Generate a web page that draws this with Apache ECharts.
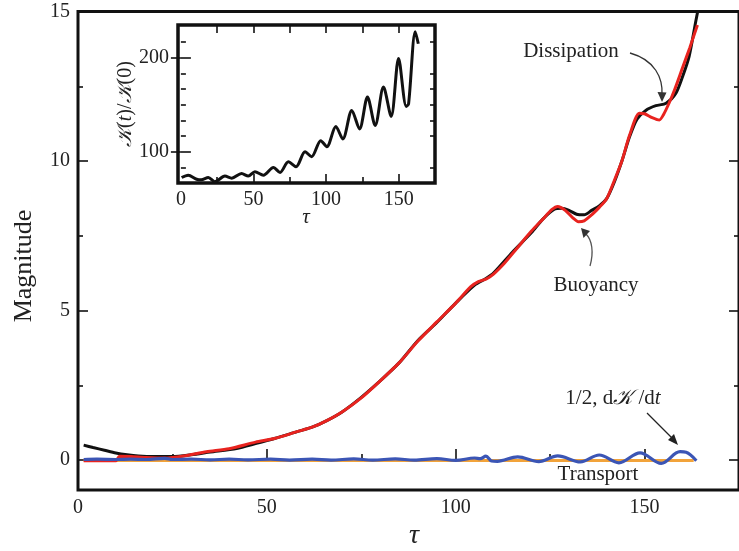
<!DOCTYPE html>
<html><head><meta charset="utf-8">
<script src="https://cdn.jsdelivr.net/npm/echarts@6/dist/echarts.min.js"></script>
<style>html,body{margin:0;padding:0;background:#fff}#c{width:739px;height:551px}</style>
</head><body><div id="c"></div><script>
// ---- data ----
const dissTau = [1.5,4,7,10,13,16,20,25,30,35,42,47,52,58,62,66,70,75,80,85,90,95,100,105,108,110,115,120,123,126,128,130,132,134,136,138,140,142,144,146,148,150.4,153,155.7,158.3,160,161.8,163.6,165];
const dissVal = [0.5,0.42,0.33,0.24,0.18,0.14,0.12,0.12,0.18,0.27,0.39,0.55,0.72,0.95,1.1,1.33,1.62,2.1,2.65,3.25,4.0,4.6,5.25,5.85,6.07,6.25,6.95,7.6,8.05,8.38,8.42,8.35,8.22,8.2,8.35,8.5,8.75,9.3,10.0,10.8,11.4,11.7,11.85,11.93,12.27,12.8,13.5,14.7,15.6];

const buoyTau = [1.5,5,10,11,14,18,23,28,34,40,47,52,58,62,66,70,75,80,85,90,95,100,104,106,108,110,113,116,120,123,125.5,127,129,131,132.5,134,136,138,140,142,144,146,148.6,150,152,153.9,155,156.5,158,160,162,164];
const buoyVal = [-0.02,-0.02,-0.02,0.13,0.12,0.09,0.07,0.14,0.28,0.38,0.6,0.72,0.95,1.1,1.33,1.62,2.08,2.65,3.25,3.98,4.62,5.25,5.8,5.97,6.05,6.22,6.6,7.05,7.65,8.05,8.38,8.48,8.35,8.1,7.97,8.0,8.2,8.45,8.75,9.35,10.0,10.85,11.6,11.58,11.45,11.37,11.55,11.94,12.4,13.1,13.8,14.55];

const dkdtTau = [1.5,5,10,14,18,23,25,30,35,40,45,51,56,62,67,73,78,84,89,95,100,105,106.5,108,109.5,111,116.4,122,127,133,138,143.2,148.8,154.4,159.4,161,163.7];
const dkdtVal = [0.02,0.03,0.02,0.03,0.02,0.06,0.02,0.03,0.01,0.03,0.01,0.03,0.0,0.03,0.0,0.04,0.0,0.04,0.0,0.05,-0.01,0.07,0.05,0.13,-0.03,-0.04,0.11,-0.05,0.14,-0.06,0.17,-0.09,0.24,-0.11,0.28,0.26,-0.02];

const transTau = [1.5,40,80,120,163];
const transVal = [-0.01,-0.01,-0.01,-0.01,-0.01];

const insetTau = [0.5,5,10.8,14,18.9,23.4,30.3,35,41.8,46.4,51,56.8,63.7,68.3,74,79.3,85.5,90,96.3,100.5,106.7,111.5,117.7,123,128.5,133.8,139.5,144.8,149.9,155.2,156.8,161.4,163.5];
const insetVal = [72.5,75,70.7,70,72.5,68,74,71.8,76.8,74,78.6,75,83.2,77.9,89.3,84,100,94.6,111.8,105.4,126.8,113.6,144,124.3,158.2,127.9,168.9,137.5,199.4,148.2,151,227.9,215];

// tick labels / tick positions
const mainXLabels = [0,50,100,150];
const mainXMajor = [50,100,150];
const mainXMinor = [25,75,125];
const mainYLabels = [0,5,10,15];
const mainYMajor = [0,5,10];
const mainYMinor = [2.5,7.5,12.5];
const insetXLabels = [0,50,100,150];
const insetXMajor = [50,100,150];
const insetXMinor = [25,75,125];
const insetXTop = [25,50,75,100,125,150];
const insetYLabels = [100,200];
const insetYMajor = [100,200];
const insetYMinor = [83.333,116.667,133.333,150,166.667,183.333,216.667];

const zip = (a,b) => a.map((v,i)=>[v,b[i]]);
const FONT = "'Liberation Serif','Times New Roman',serif";
const TXT = '#222';

function axis(o){
  return {
    type:'value', gridIndex:o.grid, position:o.pos, min:o.min, max:o.max,
    axisLine:{show:false}, splitLine:{show:false},
    axisTick:{show:true, inside:true, length:o.len, customValues:o.ticks, lineStyle:{color:'#111', width:1.6}},
    axisLabel: o.labels ? {show:true, customValues:o.labels, fontFamily:FONT, fontSize:20, color:TXT, margin:o.margin} : {show:false}
  };
}

const chart = echarts.init(document.getElementById('c'), null, {renderer:'canvas'});
const option = {
  animation:false,
  backgroundColor:'#fff',
  grid:[
    {left:78, top:11.5, right:-6, bottom:61, show:true, borderColor:'#111', borderWidth:3, backgroundColor:'transparent'},
    {left:178, top:25, right:304, bottom:368, show:true, borderColor:'#111', borderWidth:3.5, backgroundColor:'#fff'}
  ],
  xAxis:[
    axis({grid:0,pos:'bottom',min:0,max:175,len:11,ticks:mainXMajor,labels:mainXLabels,margin:8}),
    axis({grid:0,pos:'bottom',min:0,max:175,len:6,ticks:mainXMinor}),
    axis({grid:1,pos:'bottom',min:-2,max:175,len:9,ticks:insetXMajor,labels:insetXLabels,margin:7}),
    axis({grid:1,pos:'bottom',min:-2,max:175,len:6,ticks:insetXMinor}),
    axis({grid:1,pos:'top',min:-2,max:175,len:8,ticks:insetXTop})
  ],
  yAxis:[
    axis({grid:0,pos:'left',min:-1,max:15,len:10,ticks:mainYMajor,labels:mainYLabels,margin:8}),
    axis({grid:0,pos:'left',min:-1,max:15,len:5,ticks:mainYMinor}),
    axis({grid:0,pos:'right',min:-1,max:15,len:10,ticks:mainYMajor}),
    axis({grid:0,pos:'right',min:-1,max:15,len:5,ticks:mainYMinor}),
    axis({grid:1,pos:'left',min:66.667,max:235,len:10,ticks:insetYMajor,labels:insetYLabels,margin:9}),
    axis({grid:1,pos:'left',min:66.667,max:235,len:5,ticks:insetYMinor}),
    axis({grid:1,pos:'right',min:66.667,max:235,len:10,ticks:insetYMajor}),
    axis({grid:1,pos:'right',min:66.667,max:235,len:5,ticks:insetYMinor})
  ],
  series:[
    {name:'Transport', type:'line', xAxisIndex:0, yAxisIndex:0, data:zip(transTau,transVal), showSymbol:false, lineStyle:{color:'#f2a33a', width:3}, z:2},
    {name:'Dissipation', type:'line', xAxisIndex:0, yAxisIndex:0, data:zip(dissTau,dissVal), showSymbol:false, smooth:0.25, lineStyle:{color:'#111', width:3}, z:3},
    {name:'Buoyancy', type:'line', xAxisIndex:0, yAxisIndex:0, data:zip(buoyTau,buoyVal), showSymbol:false, smooth:0.25, lineStyle:{color:'#e8231f', width:3}, z:4},
    {name:'dK/dt', type:'line', xAxisIndex:0, yAxisIndex:0, data:zip(dkdtTau,dkdtVal), showSymbol:false, smooth:0.35, lineStyle:{color:'#3b55b5', width:3.2}, z:5},
    {name:'K ratio', type:'line', xAxisIndex:2, yAxisIndex:4, data:zip(insetTau,insetVal), showSymbol:false, smooth:0.3, lineStyle:{color:'#111', width:3}, z:6}
  ],
  graphic:[
    {type:'text', x:24, y:266, rotation:Math.PI/2, style:{text:'Magnitude', font:'26px '+FONT, fill:TXT, align:'center', verticalAlign:'middle'}},
    {type:'text', x:414, y:536, style:{text:'τ', font:'italic 28px '+FONT, fill:TXT, align:'center', verticalAlign:'middle'}},
    {type:'text', x:306, y:217, style:{text:'τ', font:'italic 21px '+FONT, fill:TXT, align:'center', verticalAlign:'middle'}},
    {type:'text', x:126, y:104, rotation:Math.PI/2, style:{
      text:'{k|𝒦}({i|t})/{k|𝒦}(0)', font:'20px '+FONT, fill:TXT, align:'center', verticalAlign:'middle',
      rich:{k:{fontFamily:FONT, fontSize:20, fontStyle:'italic', fill:TXT}, i:{fontFamily:FONT, fontSize:20, fontStyle:'italic', fill:TXT}}}},
    {type:'text', x:571, y:51, style:{text:'Dissipation', font:'21px '+FONT, fill:TXT, align:'center', verticalAlign:'middle'}},
    {type:'text', x:596, y:285, style:{text:'Buoyancy', font:'21px '+FONT, fill:TXT, align:'center', verticalAlign:'middle'}},
    {type:'text', x:598, y:474, style:{text:'Transport', font:'21px '+FONT, fill:TXT, align:'center', verticalAlign:'middle'}},
    {type:'text', x:613, y:398, style:{
      text:'1/2, d{k|𝒦} /d{i|t}', font:'21px '+FONT, fill:TXT, align:'center', verticalAlign:'middle',
      rich:{k:{fontFamily:FONT, fontSize:21, fontStyle:'italic', fill:TXT}, i:{fontFamily:FONT, fontSize:21, fontStyle:'italic', fill:TXT}}}},
    // arrows
    {type:'bezierCurve', shape:{x1:630,y1:53,cpx1:655,cpy1:60,cpx2:663,cpy2:78,x2:662,y2:95}, style:{stroke:'#333', lineWidth:1.3, fill:null}},
    {type:'polygon', shape:{points:[[662,102],[657.5,92],[666.5,92.5]]}, style:{fill:'#333'}},
    {type:'bezierCurve', shape:{x1:590,y1:266,cpx1:594,cpy1:252,cpx2:592,cpy2:240,x2:586,y2:234}, style:{stroke:'#555', lineWidth:1.3, fill:null}},
    {type:'polygon', shape:{points:[[581,228],[590,231],[583.5,238]]}, style:{fill:'#333'}},
    {type:'line', shape:{x1:647,y1:413,x2:673,y2:439}, style:{stroke:'#222', lineWidth:1.3}},
    {type:'polygon', shape:{points:[[678,445],[668,440],[674,434]]}, style:{fill:'#222'}}
  ]
};
chart.setOption(option);
</script></body></html>
